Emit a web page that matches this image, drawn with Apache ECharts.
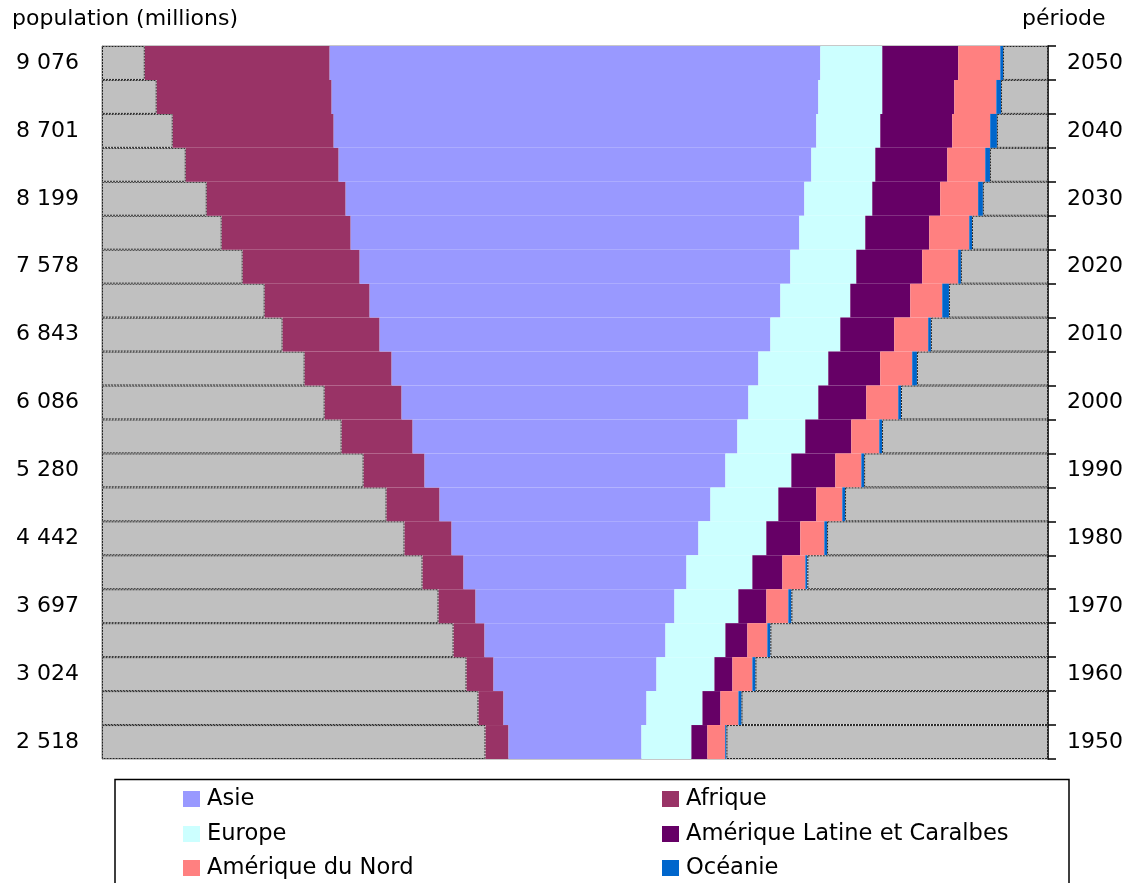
<!DOCTYPE html>
<html>
<head>
<meta charset="utf-8">
<script src="https://cdn.jsdelivr.net/npm/echarts@6/dist/echarts.min.js"></script>
<style>
  html, body { margin: 0; padding: 0; background: #ffffff; }
  #chart { width: 1129px; height: 883px; }
</style>
</head>
<body>
<div id="chart"></div>
<script>
// Periods (bottom to top)
const periods = ['1950','1955','1960','1965','1970','1975','1980','1985','1990','1995','2000',
                 '2005','2010','2015','2020','2025','2030','2035','2040','2045','2050'];

// Population by region, millions
const afrique   = [243, 264, 285, 327, 391, 433, 497, 560, 644, 750, 813, 919, 1025, 1109, 1236, 1363, 1468, 1616, 1701, 1849, 1954];
const asie      = [1405, 1511, 1722, 1912, 2102, 2356, 2609, 2863, 3180, 3433, 3666, 3877, 4131, 4342, 4553, 4743, 4849, 4997, 5102, 5145, 5187];
const europe    = [528, 592, 613, 634, 676, 697, 718, 718, 697, 718, 739, 739, 739, 739, 697, 697, 718, 676, 676, 676, 655];
const amLatine  = [169, 190, 190, 232, 296, 317, 359, 401, 465, 486, 507, 549, 570, 634, 697, 676, 718, 761, 761, 761, 803];
const amNord    = [188, 190, 211, 211, 232, 243, 254, 275, 275, 296, 338, 338, 359, 338, 380, 423, 401, 401, 401, 444, 444];
const oceanie   = [13, 32, 32, 32, 32, 21, 29, 29, 29, 29, 29, 50, 29, 71, 29, 29, 50, 50, 71, 50, 29];

// Tick labels (shown every other period, 1950, 1960, ... 2050)
const totalLabels = ['2 518','3 024','3 697','4 442','5 280','6 086','6 843','7 578','8 199','8 701','9 076'];
const yearLabels  = ['1950','1960','1970','1980','1990','2000','2010','2020','2030','2040','2050'];

// Legend layout: two columns of three
const legendLeftCol  = ['Asie', 'Europe', 'Amérique du Nord'];
const legendRightCol = ['Afrique', 'Amérique Latine et Caralbes', 'Océanie'];

// Axis scale: bars centred on the middle of Asia
const AXIS_MAX = 10000;
const CENTER = 5000;

const padLeft = periods.map((_, i) => CENTER - afrique[i] - asie[i] / 2);
const padRight = periods.map((_, i) =>
  AXIS_MAX - padLeft[i] - afrique[i] - asie[i] - europe[i] - amLatine[i] - amNord[i] - oceanie[i]);

const FONT = 'DejaVu Sans';
const GREY = '#C0C0C0';

const greyStyle = {
  color: GREY,
  borderColor: '#222',
  borderWidth: 1,
  borderType: [2, 1]
};

function bar(name, data, color, extra) {
  return Object.assign({
    name: name,
    type: 'bar',
    stack: 'pop',
    data: data,
    barCategoryGap: '0%',
    itemStyle: { color: color },
    emphasis: { disabled: true },
    silent: true
  }, extra || {});
}

function legendItem(name, left, top) {
  return {
    data: [name],
    orient: 'horizontal',
    left: left, top: top,
    padding: 0,
    itemWidth: 17, itemHeight: 16,
    icon: 'rect',
    selectedMode: false,
    textStyle: { color: '#000', fontFamily: FONT, fontSize: 22.6, lineHeight: 24, padding: [0, 0, 0, 2] }
  };
}

const legendTops = [787, 822, 856];
const legends = [];
legendLeftCol.forEach((n, i) => legends.push(legendItem(n, 183, legendTops[i])));
legendRightCol.forEach((n, i) => legends.push(legendItem(n, 662, legendTops[i])));

const chart = echarts.init(document.getElementById('chart'), null, { renderer: 'canvas' });

chart.setOption({
  animation: false,
  backgroundColor: '#ffffff',
  textStyle: { fontFamily: FONT },
  grid: {
    left: 102, right: 81, top: 46, bottom: 124,
    show: true, borderColor: '#909090', borderWidth: 1, backgroundColor: 'transparent'
  },
  xAxis: {
    type: 'value', min: 0, max: AXIS_MAX, show: false
  },
  yAxis: [
    {
      type: 'category',
      data: periods,
      position: 'left',
      boundaryGap: true,
      axisLine: { show: true, lineStyle: { color: '#909090', width: 1 } },
      axisTick: { show: false },
      splitLine: { show: false },
      axisLabel: {
        interval: 1,
        margin: 23,
        color: '#000',
        fontFamily: FONT,
        fontSize: 22,
        formatter: (v, idx) => totalLabels[idx / 2] || ''
      }
    },
    {
      type: 'category',
      data: periods,
      position: 'right',
      boundaryGap: true,
      axisLine: { show: true, lineStyle: { color: '#000', width: 1.5 } },
      axisTick: { show: true, interval: 0, length: 8, inside: false, lineStyle: { color: '#000', width: 1.5 } },
      splitLine: { show: false },
      axisLabel: {
        interval: 1,
        margin: 19,
        color: '#000',
        fontFamily: FONT,
        fontSize: 22,
        formatter: (v, idx) => yearLabels[idx / 2] || ''
      }
    }
  ],
  legend: legends,
  graphic: [
    {
      type: 'rect',
      shape: { x: 115, y: 779.5, width: 954, height: 130 },
      style: { fill: '#fff', stroke: '#000', lineWidth: 1.5 },
      z: -1
    },
    {
      type: 'text',
      left: 12, top: 8,
      style: { text: 'population (millions)', font: '22px "DejaVu Sans"', fill: '#000' }
    },
    {
      type: 'text',
      left: 1022, top: 8,
      style: { text: 'période', font: '22px "DejaVu Sans"', fill: '#000' }
    }
  ],
  series: [
    bar('padLeft', padLeft, GREY, { itemStyle: greyStyle }),
    bar('Afrique', afrique, '#993366'),
    bar('Asie', asie, '#9999FF'),
    bar('Europe', europe, '#CCFFFF'),
    bar('Amérique Latine et Caralbes', amLatine, '#660066'),
    bar('Amérique du Nord', amNord, '#FF8080'),
    bar('Océanie', oceanie, '#0066CC'),
    bar('padRight', padRight, GREY, { itemStyle: greyStyle })
  ]
});
</script>
</body>
</html>
